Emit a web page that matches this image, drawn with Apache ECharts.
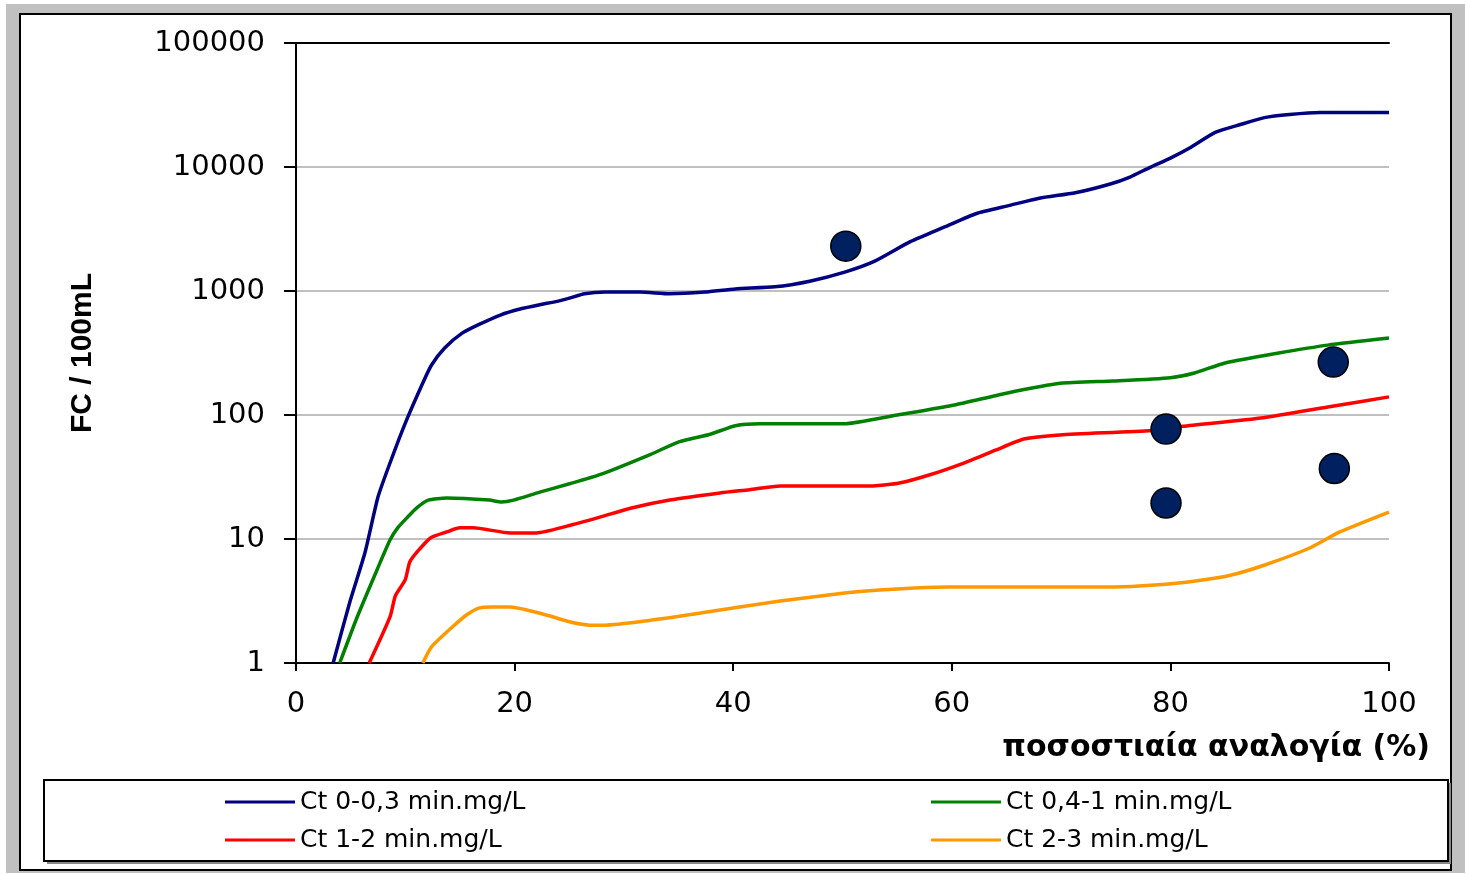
<!DOCTYPE html>
<html>
<head>
<meta charset="utf-8">
<script src="https://cdn.jsdelivr.net/npm/echarts@6/dist/echarts.min.js"></script>
<style>
  html, body { margin: 0; padding: 0; background: #fff; }
  #chart { width: 1469px; height: 875px; }
</style>
</head>
<body>
<div id="chart"></div>
<script>
// series names (legend)
const names = ["Ct 0-0,3 min.mg/L", "Ct 0,4-1 min.mg/L", "Ct 1-2 min.mg/L", "Ct 2-3 min.mg/L"];

// Ct 0-0,3
const blueX = [3.4, 4.9, 6.3, 7.5, 8.6, 10, 11.6, 12.4, 13.6, 15.2, 16.8, 18.7, 20.5, 22.3, 23.9, 25.1, 26.4, 28.3, 31.5, 34.2, 37.4, 40.2, 43.8, 47, 50.2, 53, 56.2, 59.4, 62.2, 65.3, 68, 71.3, 74.5, 76.3, 78.1, 80, 81.8, 84.1, 86.4, 88.6, 90.9, 93.7, 100];
const blueY = [1, 3.05, 7.7, 21.8, 41, 86, 181, 253, 347, 457, 540, 640, 715, 775, 825, 880, 950, 980, 980, 950, 980, 1040, 1080, 1200, 1420, 1750, 2500, 3300, 4200, 4900, 5600, 6200, 7300, 8300, 9900, 11800, 14300, 19000, 22000, 25000, 26500, 27500, 27500];

// Ct 0,4-1
const greenX = [4.0, 5.6, 7.4, 8.6, 9.3, 10.2, 11.1, 12.1, 13.8, 17.7, 18.8, 19.9, 22.3, 25.1, 27.8, 32.4, 35.1, 37.9, 40.2, 42.5, 50.1, 55, 60.1, 65, 69.9, 74.8, 80, 82.2, 85, 89.9, 94.4, 100];
const greenY = [1, 2.35, 5.6, 9.8, 12.3, 15, 18, 20.6, 21.4, 20.6, 19.9, 20.6, 23.9, 28, 33, 48, 61, 70, 82, 85, 85, 100, 120, 150, 180, 188, 200, 218, 263, 316, 366, 417];

// Ct 1-2
const redX = [6.7, 8.6, 9.1, 10, 10.4, 11.1, 12.3, 13.8, 15, 16.2, 19.6, 22, 24.8, 27.8, 30.6, 34.2, 38.8, 41.5, 44.3, 52.8, 55.2, 58, 61.1, 64, 66.6, 69.9, 78.3, 81.1, 88.5, 94.4, 100];
const redY = [1, 2.35, 3.5, 4.7, 6.5, 7.9, 10.2, 11.4, 12.3, 12.3, 11.2, 11.2, 12.7, 15, 17.7, 20.6, 23.5, 25, 26.8, 26.8, 28.3, 33, 41, 52, 64, 69, 75, 81, 95, 116, 140];

// Ct 2-3
const orangeX = [11.6, 12.4, 14.3, 15.6, 16.8, 18, 19.6, 22.9, 25.1, 26.9, 28.3, 31.9, 37, 40.6, 44.3, 50.2, 53.4, 56.6, 59.8, 74.9, 78.6, 82.3, 85.5, 88.7, 92.8, 95.5, 100];
const orangeY = [1, 1.35, 1.95, 2.44, 2.78, 2.83, 2.83, 2.44, 2.14, 2.02, 2.02, 2.18, 2.53, 2.83, 3.16, 3.67, 3.88, 4.02, 4.1, 4.1, 4.25, 4.58, 5.1, 6.2, 8.5, 11.4, 16.5];

// measured points
const dotX = [50.3, 79.6, 79.6, 94.9, 95];
const dotY = [2300, 77, 19.5, 267, 37];

const zip = (xs, ys) => xs.map((x, i) => [x, ys[i]]);

const lineSeries = (name, xs, ys, color) => ({
  name: name,
  type: "line",
  data: zip(xs, ys),
  showSymbol: false,
  smooth: 0.2,
  lineStyle: { color: color, width: 3.5 },
  itemStyle: { color: color },
  z: 3,
});

const labelFont = "DejaVu Sans";
const legendText = { fontFamily: labelFont, fontSize: 25, color: "#000", lineHeight: 26 };

const chart = echarts.init(document.getElementById("chart"));
const option = {
  animation: false,
  backgroundColor: "#fff",
  graphic: [
    { type: "rect", z: -20, shape: { x: 6, y: 4, width: 1459, height: 869 }, style: { fill: "#c0c0c0" } },
    { type: "rect", z: -19, shape: { x: 20, y: 14, width: 1431, height: 856 }, style: { fill: "#fff", stroke: "#000", lineWidth: 2 } },
    { type: "rect", z: -18, shape: { x: 47, y: 783, width: 1404, height: 81 }, style: { fill: "#888" } },
    { type: "rect", z: -17, shape: { x: 44, y: 780, width: 1404, height: 81 }, style: { fill: "#fff", stroke: "#000", lineWidth: 2 } },
  ],
  grid: {
    left: 296,
    right: 80,
    top: 43,
    bottom: 212,
  },
  legend: [
    {
      orient: "vertical",
      left: 220,
      top: 784,
      data: [names[0], names[2]],
      icon: "rect",
      itemWidth: 70,
      itemHeight: 3,
      itemGap: 12,
      textStyle: legendText,
    },
    {
      orient: "vertical",
      left: 926,
      top: 784,
      data: [names[1], names[3]],
      icon: "rect",
      itemWidth: 70,
      itemHeight: 3,
      itemGap: 12,
      textStyle: legendText,
    },
  ],
  xAxis: [
    {
      type: "value",
      min: 0,
      max: 100,
      interval: 20,
      name: "ποσοστιαία αναλογία (%)",
      nameLocation: "end",
      nameGap: 41,
      nameTextStyle: {
        fontFamily: labelFont,
        fontWeight: "bold",
        fontSize: 30,
        color: "#000",
        align: "right",
        verticalAlign: "top",
        padding: [70, 0, 0, 0],
      },
      axisLine: { lineStyle: { color: "#000", width: 2 } },
      axisTick: { show: true, length: 8, lineStyle: { color: "#000", width: 2 } },
      axisLabel: { margin: 27, fontFamily: labelFont, fontSize: 29, color: "#000" },
      splitLine: { show: false },
    },
    {
      // top frame of the plot area
      type: "value",
      position: "top",
      min: 0,
      max: 100,
      axisLine: { lineStyle: { color: "#000", width: 2 } },
      axisTick: { show: false },
      axisLabel: { show: false },
      splitLine: { show: false },
    },
  ],
  yAxis: [
    {
      type: "log",
      logBase: 10,
      min: 1,
      max: 100000,
      name: "FC / 100mL",
      nameLocation: "middle",
      nameGap: 198,
      nameTextStyle: { fontFamily: "Liberation Sans", fontWeight: "bold", fontSize: 30, color: "#000" },
      axisLine: { lineStyle: { color: "#000", width: 2 } },
      axisTick: { show: true, length: 12, lineStyle: { color: "#000", width: 2 } },
      axisLabel: {
        margin: 31,
        fontFamily: labelFont,
        fontSize: 29,
        color: "#000",
        formatter: (v) => String(Math.round(v)),
      },
      splitLine: { show: true, showMinLine: false, showMaxLine: false, lineStyle: { color: "#c0c0c0", width: 2 } },
    },
    {
      // right frame of the plot area
      type: "log",
      position: "right",
      min: 1,
      max: 100000,
      axisLine: { show: true, lineStyle: { color: "#000", width: 2 } },
      axisTick: { show: false },
      axisLabel: { show: false },
      splitLine: { show: false },
    },
  ],
  series: [
    lineSeries(names[0], blueX, blueY, "#000080"),
    lineSeries(names[1], greenX, greenY, "#008000"),
    lineSeries(names[2], redX, redY, "#ff0000"),
    lineSeries(names[3], orangeX, orangeY, "#ff9900"),
    {
      name: "points",
      type: "scatter",
      data: zip(dotX, dotY),
      symbol: "circle",
      symbolSize: 30,
      itemStyle: { color: "#002060", opacity: 1, borderColor: "#000", borderWidth: 1.5 },
      z: 4,
    },
  ],
};
chart.setOption(option);
</script>
</body>
</html>
